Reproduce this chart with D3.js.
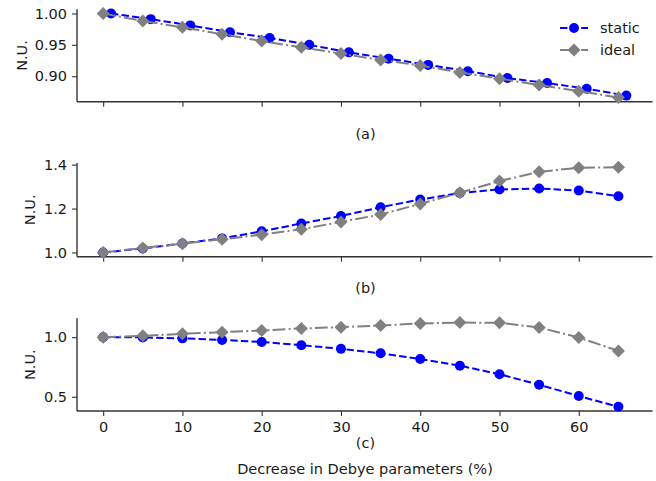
<!DOCTYPE html>
<html>
<head>
<meta charset="utf-8">
<script src="https://cdn.jsdelivr.net/npm/d3@7"></script>
<style>
  body { margin: 0; background: #fff; }
  svg text { font-family: "DejaVu Sans", sans-serif; fill: #1a1a1a; }
</style>
</head>
<body>
<svg id="chart"></svg>
<script>
// decrease in Debye parameters (%)
var xs = [0, 5, 10, 15, 20, 25, 30, 35, 40, 45, 50, 55, 60, 65];
// in panel (a) the static points sit one unit to the right
var xsShifted = [1, 6, 11, 16, 21, 26, 31, 36, 41, 46, 51, 56, 61, 66];

var staticA = [1.000, 0.991, 0.981, 0.970, 0.961, 0.950, 0.938, 0.928, 0.918, 0.908, 0.897, 0.889, 0.880, 0.869];
var idealA  = [1.000, 0.988, 0.978, 0.967, 0.956, 0.946, 0.936, 0.926, 0.917, 0.906, 0.896, 0.886, 0.876, 0.866];

var staticB = [1.000, 1.018, 1.041, 1.064, 1.096, 1.132, 1.166, 1.206, 1.241, 1.271, 1.287, 1.291, 1.282, 1.256];
var idealB  = [1.000, 1.020, 1.040, 1.060, 1.081, 1.106, 1.139, 1.173, 1.221, 1.272, 1.325, 1.367, 1.386, 1.388];

var staticC = [1.000, 0.998, 0.990, 0.977, 0.960, 0.933, 0.902, 0.865, 0.817, 0.761, 0.689, 0.601, 0.506, 0.416];
var idealC  = [1.000, 1.011, 1.028, 1.042, 1.056, 1.073, 1.084, 1.098, 1.115, 1.123, 1.120, 1.081, 0.997, 0.885];

var xTicks = [0, 10, 20, 30, 40, 50, 60];
var yTicksA = [0.90, 0.95, 1.00];
var yTicksB = [1.0, 1.2, 1.4];
var yTicksC = [0.5, 1.0];

var width = 656;
var height = 481;
var fontSize = "14.5px";

var svg = d3.select("svg#chart")
    .attr("width", width)
    .attr("height", height);

var left = 77, right = 652.5;

// shared x scale, 5% margins like matplotlib
var xMin = 0, xMax = 66;
var xPad = (xMax - xMin) * 0.05;
var x = d3.scaleLinear().domain([xMin - xPad, xMax + xPad]).range([left, right]);

var panels = [
    {top: 9.3,  bottom: 101.7, s: staticA, sx: xsShifted, id: idealA, ticks: yTicksA, fmt: ".2f", tag: "(a)", tagY: 139, labX: 21.7, legend: true},
    {top: 163,  bottom: 256.7, s: staticB, sx: xs, id: idealB, ticks: yTicksB, fmt: ".1f", tag: "(b)", tagY: 293, labX: 30},
    {top: 318.3, bottom: 411,  s: staticC, sx: xs, id: idealC, ticks: yTicksC, fmt: ".1f", tag: "(c)", tagY: 448, labX: 30, xLabels: true}
];

var blue = "#0000ff", gray = "#808080";

function diamond(r) {
    return "M0," + (-r) + "L" + r + ",0L0," + r + "L" + (-r) + ",0Z";
}

panels.forEach(function(p) {
    var all = p.s.concat(p.id);
    var lo = d3.min(all), hi = d3.max(all);
    var pad = (hi - lo) * 0.05;
    var y = d3.scaleLinear().domain([lo - pad, hi + pad]).range([p.bottom, p.top]);

    var g = svg.append("g");

    // axes
    var yAxis = d3.axisLeft(y).tickValues(p.ticks).tickFormat(d3.format(p.fmt))
        .tickSize(5).tickPadding(5);
    var ya = g.append("g").attr("transform", "translate(" + left + ",0)").call(yAxis);

    var xAxis = d3.axisBottom(x).tickValues(xTicks).tickSize(5).tickPadding(5.5);
    if (!p.xLabels) xAxis.tickFormat("");
    var xa = g.append("g").attr("transform", "translate(0," + p.bottom + ")").call(xAxis);

    [ya, xa].forEach(function(a) {
        a.select(".domain").attr("stroke", "#333").attr("stroke-width", 1.4)
            .attr("d", a === ya ? "M0," + p.top + "V" + p.bottom : "M" + left + ",0H" + right);
        a.selectAll(".tick line").attr("stroke", "#333").attr("stroke-width", 1.1);
        a.selectAll(".tick text").style("font-size", fontSize).attr("fill", "#1a1a1a");
    });

    g.append("text")
        .attr("transform", "translate(" + p.labX + "," + ((p.top + p.bottom) / 2) + ") rotate(-90)")
        .attr("text-anchor", "middle")
        .attr("dy", "0.35em")
        .style("font-size", fontSize)
        .text("N.U.");

    g.append("text")
        .attr("x", 365.5)
        .attr("y", p.tagY)
        .attr("text-anchor", "middle")
        .style("font-size", fontSize)
        .text(p.tag);

    // static series
    var lineS = d3.line().x(function(d, i) { return x(p.sx[i]); }).y(function(d) { return y(d); });
    g.append("path").datum(p.s)
        .attr("d", lineS)
        .attr("fill", "none")
        .attr("stroke", blue)
        .attr("stroke-width", 2)
        .attr("stroke-dasharray", "7.4,3.2");
    g.selectAll("circle.s").data(p.s).enter().append("circle")
        .attr("class", "s")
        .attr("cx", function(d, i) { return x(p.sx[i]); })
        .attr("cy", function(d) { return y(d); })
        .attr("r", 5)
        .attr("fill", blue);

    // ideal series
    var lineI = d3.line().x(function(d, i) { return x(xs[i]); }).y(function(d) { return y(d); });
    g.append("path").datum(p.id)
        .attr("d", lineI)
        .attr("fill", "none")
        .attr("stroke", gray)
        .attr("stroke-width", 2)
        .attr("stroke-dasharray", "12.8,3.2,2,3.2");
    g.selectAll("path.i").data(p.id).enter().append("path")
        .attr("class", "i")
        .attr("transform", function(d, i) { return "translate(" + x(xs[i]) + "," + y(d) + ")"; })
        .attr("d", diamond(6.5))
        .attr("fill", gray);

    if (p.legend) {
        var items = [
            {name: "static", color: blue, dash: "7.4,3.2", mark: "circle", y: 28},
            {name: "ideal", color: gray, dash: "12.8,3.2,2,3.2", mark: "diamond", y: 50}
        ];
        items.forEach(function(it) {
            g.append("line")
                .attr("x1", 560).attr("x2", 588)
                .attr("y1", it.y).attr("y2", it.y)
                .attr("stroke", it.color)
                .attr("stroke-width", 2)
                .attr("stroke-dasharray", it.dash);
            if (it.mark === "circle") {
                g.append("circle").attr("cx", 574).attr("cy", it.y).attr("r", 5).attr("fill", it.color);
            } else {
                g.append("path").attr("transform", "translate(574," + it.y + ")")
                    .attr("d", diamond(6.5)).attr("fill", it.color);
            }
            g.append("text")
                .attr("x", 600)
                .attr("y", it.y)
                .attr("dy", "0.35em")
                .style("font-size", fontSize)
                .text(it.name);
        });
    }
});

svg.append("text")
    .attr("x", 365)
    .attr("y", 474)
    .attr("text-anchor", "middle")
    .style("font-size", fontSize)
    .text("Decrease in Debye parameters (%)");
</script>
</body>
</html>
